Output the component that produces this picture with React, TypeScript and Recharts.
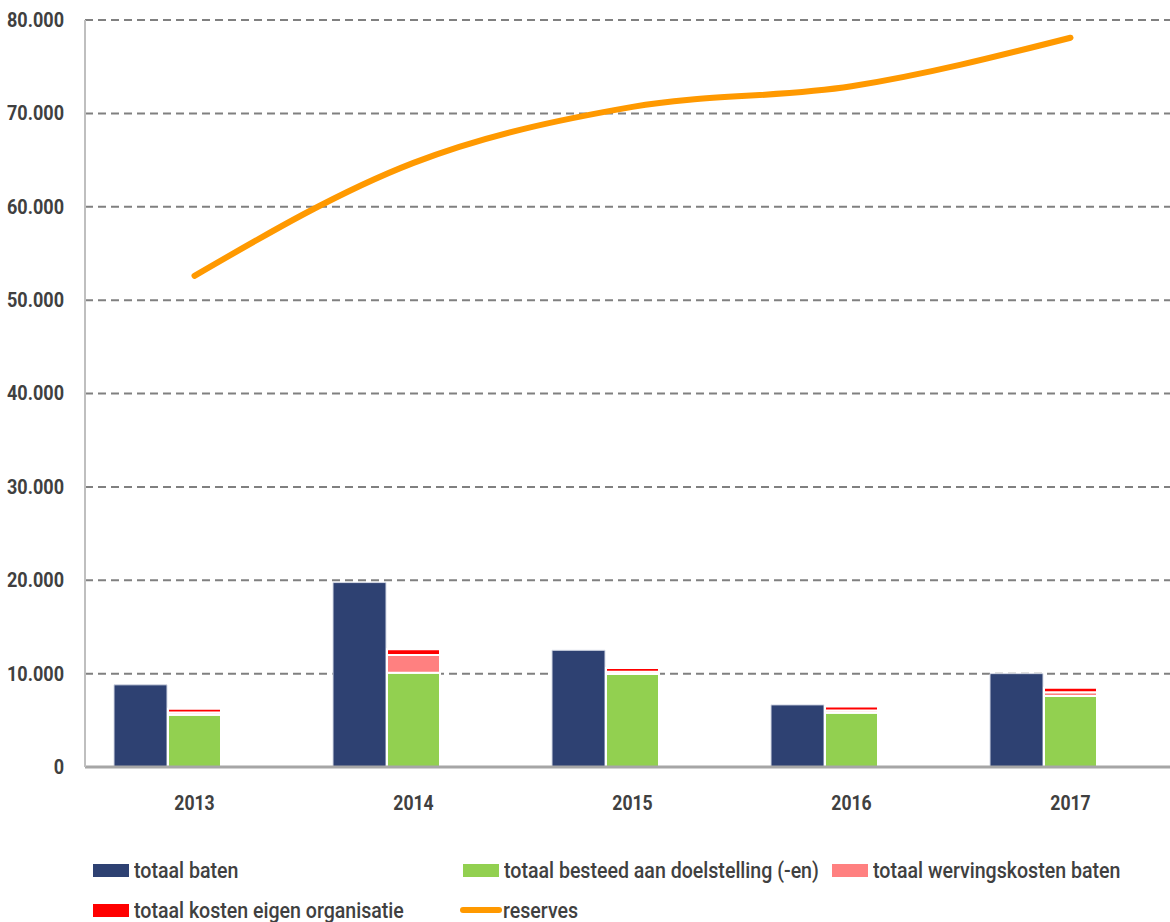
import React from "react";
import { ComposedChart, Bar, Line, XAxis, YAxis, CartesianGrid } from "recharts";

const years = ["2013", "2014", "2015", "2016", "2017"];
const totaalBaten = [8800, 19750, 12500, 6650, 10000];
const besteedDoel = [5600, 10100, 9950, 5800, 7600];
const wervingskosten = [250, 1900, 250, 250, 400];
const kostenEigen = [400, 600, 400, 420, 500];
const reserves = [52600, 64700, 70700, 72900, 78100];
const yTicks = [0, 10000, 20000, 30000, 40000, 50000, 60000, 70000, 80000];

const data = years.map((y, i) => ({
  year: y,
  baten: totaalBaten[i],
  doel: besteedDoel[i],
  werving: wervingskosten[i],
  eigen: kostenEigen[i],
  reserves: reserves[i],
}));

const FONT = "Roboto, 'Open Sans', sans-serif";

const fmt = (v: number) => (v === 0 ? "0" : v.toLocaleString("de-DE"));

const legendItems = [
  { label: "totaal baten", color: "#2E4172", x: 93, y: 870, line: false },
  { label: "totaal besteed aan doelstelling (-en)", color: "#92D050", x: 463, y: 870, line: false },
  { label: "totaal wervingskosten baten", color: "#FF8080", x: 832, y: 870, line: false },
  { label: "totaal kosten eigen organisatie", color: "#FF0000", x: 93, y: 910, line: false },
  { label: "reserves", color: "#FF9900", x: 460, y: 910, line: true },
];

const YTick = (props: any) => {
  const { x, y, payload } = props;
  return (
    <text
      transform={`translate(${x},${y}) scale(0.86,1)`}
      textAnchor="end"
      dominantBaseline="central"
      fill="#404040"
      fontSize={21}
      fontWeight="bold"
      fontFamily={FONT}
    >
      {fmt(payload.value)}
    </text>
  );
};

const XTick = (props: any) => {
  const { x, y, payload } = props;
  return (
    <text
      transform={`translate(${x},${y}) scale(0.84,1)`}
      textAnchor="middle"
      dominantBaseline="central"
      fill="#404040"
      fontSize={21}
      fontWeight="bold"
      fontFamily={FONT}
    >
      {payload.value}
    </text>
  );
};

export default function App() {
  return (
    <div
      style={{
        position: "absolute",
        left: 0,
        top: 0,
        width: 1170,
        height: 922,
        overflow: "hidden",
        background: "#fff",
      }}
    >
      <ComposedChart
        width={1180}
        height={922}
        data={data}
        margin={{ top: 20, right: 0, left: 0, bottom: 0 }}
        barSize={53}
        barGap={1}
      >
        <CartesianGrid
          vertical={false}
          stroke="#808080"
          strokeDasharray="8 5"
          strokeWidth={2}
          horizontalValues={yTicks.filter((t) => t > 0)}
        />
        <XAxis
          dataKey="year"
          height={155}
          tickLine={false}
          tickSize={0}
          tickMargin={36}
          axisLine={{ stroke: "#A6A6A6", strokeWidth: 3 }}
          tick={<XTick />}
        />
        <YAxis
          width={85}
          domain={[0, 80000]}
          ticks={yTicks}
          interval={0}
          tickLine={false}
          tickSize={0}
          tickMargin={21}
          axisLine={{ stroke: "#BFBFBF", strokeWidth: 2 }}
          tick={<YTick />}
        />
        <Bar dataKey="baten" stackId="a" fill="#2E4172" stroke="#D5DAE6" strokeWidth={1} isAnimationActive={false} />
        <Bar dataKey="doel" stackId="b" fill="#92D050" stroke="#fff" strokeWidth={2} isAnimationActive={false} />
        <Bar dataKey="werving" stackId="b" fill="#FF8080" stroke="#fff" strokeWidth={2} isAnimationActive={false} />
        <Bar dataKey="eigen" stackId="b" fill="#FF0000" stroke="#fff" strokeWidth={2} isAnimationActive={false} />
        <Bar dataKey="dummy" stackId="c" fill="none" isAnimationActive={false} />
        <Line
          dataKey="reserves"
          type="monotone"
          stroke="#FF9900"
          strokeWidth={6}
          dot={false}
          activeDot={false}
          strokeLinecap="round"
          isAnimationActive={false}
        />
      </ComposedChart>
      {legendItems.map((it) => (
        <div
          key={it.label}
          style={{
            position: "absolute",
            left: it.x,
            top: it.y - 14,
            height: 28,
            display: "flex",
            alignItems: "center",
            fontFamily: FONT,
            fontSize: 22.5,
            fontWeight: 500,
            color: "#404040",
            whiteSpace: "nowrap",
          }}
        >
          <span
            style={{
              display: "inline-block",
              width: it.line ? 42 : 36,
              height: it.line ? 6 : 13,
              borderRadius: it.line ? 3 : 0,
              background: it.color,
              marginRight: it.line ? 1 : 5,
            }}
          />
          <span style={{ display: "inline-block", transform: "scaleX(0.87)", transformOrigin: "left center" }}>
            {it.label}
          </span>
        </div>
      ))}
    </div>
  );
}
